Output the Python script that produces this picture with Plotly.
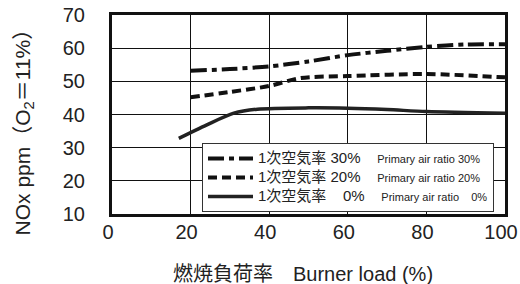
import plotly.graph_objects as go

# Burner load (%) and NOx ppm (O2=11%)
x30 = [20, 30, 40, 50, 60, 70, 80, 90, 100]
y30 = [53.2, 53.7, 54.5, 56.0, 57.9, 59.2, 60.4, 61.1, 61.2]
x20 = [20, 30, 40, 48, 60, 80, 100]
y20 = [45.2, 46.8, 48.6, 51.0, 51.6, 52.2, 51.2]
x0 = [17, 24, 31, 37, 50, 60, 70, 80, 100]
y0 = [32.8, 36.8, 40.4, 41.6, 42.0, 41.9, 41.5, 40.9, 40.4]

names_jp = ["1次空気率 30%", "1次空気率 20%", "1次空気率\u00a0\u00a0\u00a0\u00a00%"]
names_en = ["Primary air ratio 30%", "Primary air ratio 20%", "Primary air ratio\u00a0\u00a0\u00a0\u00a00%"]

x_ticks = [0, 20, 40, 60, 80, 100]
x_tick_labels = ["0", "20", "40", "60", "80", "100"]
y_ticks = [10, 20, 30, 40, 50, 60, 70]

x_title = "燃焼負荷率\u3000Burner load (%)"
y_title = "NOx ppm（O<sub>2</sub>＝11%）"

FONT = "Liberation Sans, Arial, Noto Sans CJK JP, sans-serif"

def legend_name(jp, en):
    return (f"<span style='font-size:15px'>{jp}</span>"
            f"\u00a0\u00a0\u00a0\u00a0\u00a0<span style='font-size:11px'>{en}</span>")

fig = go.Figure()
fig.add_trace(go.Scatter(x=x30, y=y30, mode="lines", name=legend_name(names_jp[0], names_en[0]),
                         line=dict(color="#111", width=4, dash="16px,5px,5px,5px", shape="spline", smoothing=0.8)))
fig.add_trace(go.Scatter(x=x20, y=y20, mode="lines", name=legend_name(names_jp[1], names_en[1]),
                         line=dict(color="#111", width=4, dash="9px,5px", shape="spline", smoothing=0.8)))
fig.add_trace(go.Scatter(x=x0, y=y0, mode="lines", name=legend_name(names_jp[2], names_en[2]),
                         line=dict(color="#222", width=3.5, shape="spline", smoothing=0.8)))

fig.update_layout(
    width=520, height=284,
    margin=dict(l=112, r=15, t=15, b=70),
    paper_bgcolor="white", plot_bgcolor="white",
    font=dict(family=FONT, color="#222", size=20),
    showlegend=True,
    legend=dict(x=0.229, y=0.357, xanchor="left", yanchor="top",
                bgcolor="white", bordercolor="#333", borderwidth=1,
                font=dict(size=12, family=FONT), tracegroupgap=0,
                itemwidth=45),
    annotations=[
        dict(text=x_title, xref="paper", yref="paper", x=0.485, y=-0.30,
             xanchor="center", yanchor="middle", showarrow=False,
             font=dict(size=20, family=FONT, color="#222")),
        dict(text=y_title, xref="paper", yref="paper", x=-0.224, y=0.44,
             xanchor="center", yanchor="middle", showarrow=False, textangle=-90,
             font=dict(size=21, family=FONT, color="#222")),
    ],
)
fig.update_xaxes(range=[0, 100], tickvals=x_ticks, ticktext=x_tick_labels,
                 showgrid=True, gridcolor="#111", gridwidth=1,
                 showline=True, linecolor="#111", linewidth=3, mirror=True, zeroline=False,
                 ticks="", ticklabelstandoff=-2, ticklabelshift=-4, tickfont=dict(size=20),
                 automargin=False, ticklabeloverflow="allow")
fig.update_yaxes(range=[10, 70], tickvals=y_ticks, showgrid=True, gridcolor="#111", gridwidth=1,
                 showline=True, linecolor="#111", linewidth=3, mirror=True, zeroline=False,
                 ticks="", ticklabelstandoff=20, tickfont=dict(size=20), automargin=False,
                 ticklabeloverflow="allow")

# remove the default 8px page margin so the figure fills the window exactly
fig.write_html("out.html", config={"displayModeBar": False},
               post_script="document.body.style.margin='0';")
